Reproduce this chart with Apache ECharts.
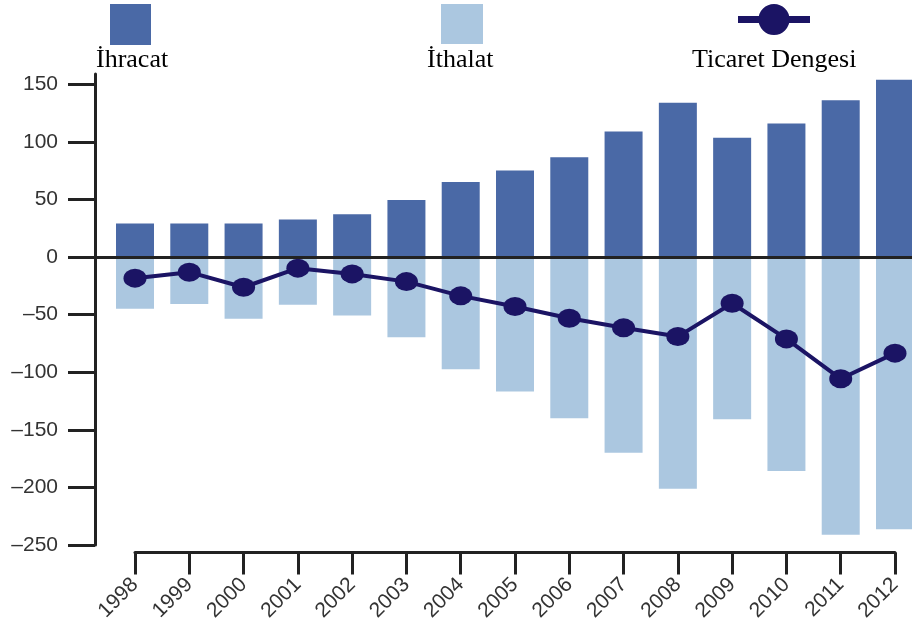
<!DOCTYPE html>
<html>
<head>
<meta charset="utf-8">
<script src="https://cdn.jsdelivr.net/npm/echarts@6/dist/echarts.min.js"></script>
<style>
    html, body { margin: 0; padding: 0; background: #fff; }
    #chart { width: 912px; height: 624px; }
</style>
</head>
<body>
<div id="chart"></div>
<script>
// veriler (milyar $)
var years = ['1998','1999','2000','2001','2002','2003','2004','2005','2006','2007','2008','2009','2010','2011','2012'];
var ihracat = [29, 29, 29, 32.6, 37.1, 49.4, 65, 75.2, 86.7, 108.9, 134, 103.6, 116, 136.2, 153.9];
var ithalat = [-45.2, -40.9, -53.9, -41.7, -51, -69.9, -97.7, -117.1, -140.3, -170.2, -201.7, -141.1, -186.1, -241.7, -236.8];
var denge = [-18.5, -13.3, -26.4, -9.8, -14.8, -21.5, -33.9, -43.2, -53.3, -61.7, -69.3, -40.3, -71.3, -106, -83.7];
var yTicks = [-250, -200, -150, -100, -50, 0, 50, 100, 150];

var names = ['İhracat', 'İthalat', 'Ticaret Dengesi'];
var colors = ['#4a69a6', '#abc7e0', '#1b1464'];

var chart = echarts.init(document.getElementById('chart'));

var serif = {fontFamily: 'Liberation Serif', fontSize: 26, color: '#000', fontWeight: 'normal'};
var legendIcon = 'path://M0,12 L72,12 L72,19 L0,19 Z M20.5,15.5 A15.5,15.5 0 1,1 51.5,15.5 A15.5,15.5 0 1,1 20.5,15.5 Z';
var noText = function(){ return ''; };

chart.setOption({
    animation: false,
    title: [
        {text: names[0], left: 96, top: 47, padding: 0, textStyle: serif},
        {text: names[1], left: 427, top: 47, padding: 0, textStyle: serif},
        {text: names[2], left: 692, top: 47, padding: 0, textStyle: serif}
    ],
    legend: [
        {data: [names[0]], left: 110, top: 4, padding: 0, itemWidth: 41, itemHeight: 41, icon: 'rect', formatter: noText, selectedMode: false},
        {data: [names[1]], left: 441, top: 4, padding: 0, itemWidth: 42, itemHeight: 40, icon: 'rect', formatter: noText, selectedMode: false},
        {data: [names[2]], left: 738, top: 4, padding: 0, itemWidth: 72, itemHeight: 31, icon: legendIcon, formatter: noText, selectedMode: false}
    ],
    grid: [
        {left: 95, right: 0, top: 74, bottom: 79},   // y ekseni + sıfır çizgisi
        {left: 135, right: 17, top: 74, bottom: 79}  // veriler
    ],
    xAxis: [
        {gridIndex: 0, type: 'value', min: 0, max: 1, show: false},
        {
            gridIndex: 1, type: 'category', data: years, boundaryGap: false, offset: 8,
            axisLine: {onZero: false, lineStyle: {color: '#222', width: 3}},
            axisTick: {length: 22, lineStyle: {color: '#222', width: 3}},
            axisLabel: {rotate: 45, margin: 29, color: '#333', fontSize: 21, fontFamily: 'Liberation Sans'}
        }
    ],
    yAxis: [
        {
            gridIndex: 0, type: 'value', min: -250, max: 159,
            axisLine: {show: true, lineStyle: {color: '#222', width: 3}},
            axisTick: {show: true, length: 27, customValues: yTicks, lineStyle: {color: '#222', width: 3}},
            axisLabel: {customValues: yTicks, margin: 37, color: '#333', fontSize: 21, fontFamily: 'Liberation Sans',
                formatter: function(v){ return String(v).replace('-', '–'); }},
            splitLine: {show: false}
        },
        {gridIndex: 1, type: 'value', min: -250, max: 159, show: false, splitLine: {show: false}}
    ],
    series: [
        {
            name: names[0], type: 'bar', xAxisIndex: 1, yAxisIndex: 1, data: ihracat,
            barWidth: 38, barGap: '-100%', clip: false, itemStyle: {color: colors[0]}
        },
        {
            name: names[1], type: 'bar', xAxisIndex: 1, yAxisIndex: 1, data: ithalat,
            barWidth: 38, barGap: '-100%', clip: false, itemStyle: {color: colors[1]}
        },
        {
            // sıfır çizgisi
            type: 'line', xAxisIndex: 0, yAxisIndex: 0, data: [], z: 5,
            markLine: {silent: true, symbol: 'none', label: {show: false},
                lineStyle: {color: '#222', width: 3, type: 'solid'}, data: [{yAxis: 0}]}
        },
        {
            name: names[2], type: 'line', xAxisIndex: 1, yAxisIndex: 1, data: denge, z: 6,
            symbol: 'circle', symbolSize: [23, 19], clip: false,
            lineStyle: {color: colors[2], width: 4}, itemStyle: {color: colors[2]}
        }
    ]
});
</script>
</body>
</html>
